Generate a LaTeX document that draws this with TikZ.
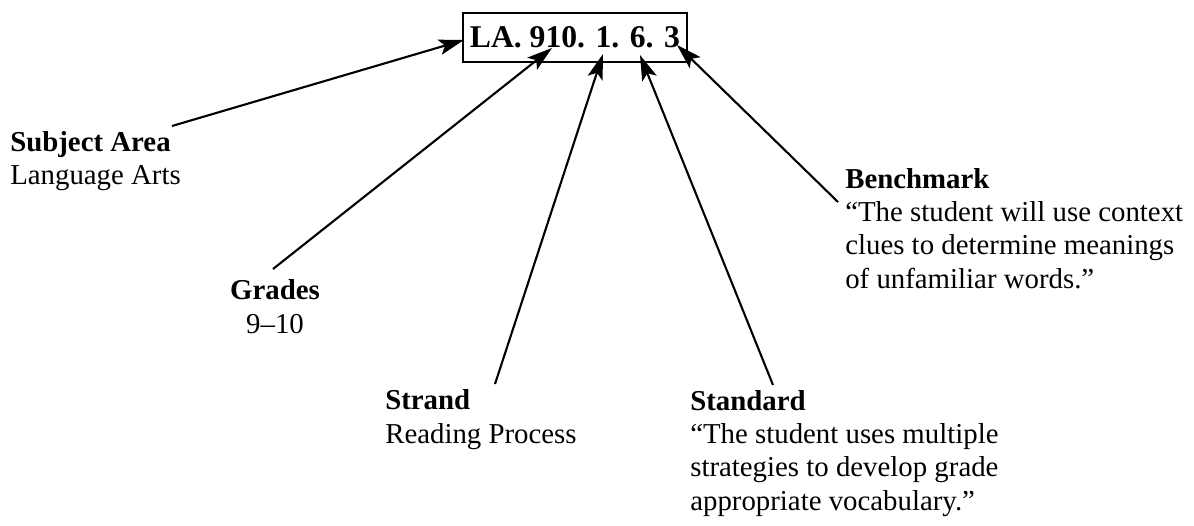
\documentclass[tikz,border=0pt]{standalone}
\usepackage{fontspec}
\setmainfont{Liberation Serif}
\usetikzlibrary{arrows.meta}

\begin{document}
\begin{tikzpicture}[x=0.025cm, y=-0.025cm,
  lbl/.style={align=left, inner sep=0pt, font=\fontsize{20.5}{23.5}\selectfont},
  ptr/.style={line width=1.5pt, -{Stealth[length=18pt, width=11pt, inset=4pt]}}]

\useasboundingbox (0,0) rectangle (1194,525);

\node[draw, line width=1.8pt, minimum width=5.6cm, minimum height=1.225cm, inner sep=0pt, font=\fontsize{22.5}{26}\selectfont\bfseries] (code) at (575, 37.5) {LA. 910. 1. 6. 3};

% labels sit on the baseline of their last line
\node[lbl, anchor=base west] (subj) at (10, 185) {\textbf{Subject Area}\\Language Arts};
\node[lbl, align=center, anchor=base] (grades) at (275, 333) {\textbf{Grades}\\9--10};
\node[lbl, anchor=base west] (strand) at (385, 443) {\textbf{Strand}\\Reading Process};
\node[lbl, anchor=base west] (std) at (690, 510) {\textbf{Standard}\\``The student uses multiple\\strategies to develop grade\\appropriate vocabulary.''};
\node[lbl, anchor=base west] (bench) at (845, 288) {\textbf{Benchmark}\\``The student will use context\\clues to determine meanings\\of unfamiliar words.''};

% where the pointers leave the labels and land on the code
\coordinate (subjtail) at (172, 126);
\coordinate (gradestail) at (273, 269);
\coordinate (strandtail) at (495, 384);
\coordinate (stdtail) at (773, 385);
\coordinate (benchtail) at (838, 202);

\coordinate (subjtip) at (464, 40);
\coordinate (gradestip) at (552, 48);
\coordinate (strandtip) at (603, 54);
\coordinate (stdtip) at (640, 55);
\coordinate (benchtip) at (677, 45);

\draw[ptr] (subjtail) -- (subjtip);
\draw[ptr] (gradestail) -- (gradestip);
\draw[ptr] (strandtail) -- (strandtip);
\draw[ptr] (stdtail) -- (stdtip);
\draw[ptr] (benchtail) -- (benchtip);

\end{tikzpicture}
\end{document}
